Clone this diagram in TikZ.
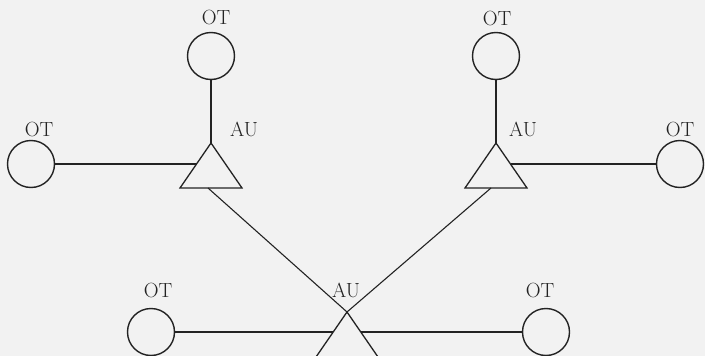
\documentclass[tikz,border=0pt]{standalone}
\usetikzlibrary{calc}
\definecolor{bg}{RGB}{242,242,242}
\definecolor{ink}{RGB}{35,35,35}
\begin{document}
\begin{tikzpicture}[x=1pt,y=-1pt,
  ot/.style={circle,draw=ink,line width=1.4pt,minimum size=47pt,inner sep=0pt},
  lbl/.style={font=\fontsize{20.5}{22}\selectfont,text=ink,inner sep=0pt,anchor=base},
  wire/.style={draw=ink,line width=1.1pt},
  tri/.style={draw=ink,line width=1.3pt,line join=miter}]
\fill[bg] (0,0) rectangle (705,356);
\useasboundingbox (0,0) rectangle (705,356);
\clip (0,0) rectangle (705,356);
% circles (OT)
\node[ot] (c1) at (211,56) {};
\node[ot] (c2) at (31,164) {};
\node[ot] (c3) at (496,56) {};
\node[ot] (c4) at (680,164) {};
\node[ot] (c5) at (151,332) {};
\node[ot] (c6) at (546,332) {};
% labels
\node[lbl] (l1) at (216,24.5) {OT};
\node[lbl] (l2) at (39,136) {OT};
\node[lbl] (l3) at (497,25.5) {OT};
\node[lbl] (l4) at (680,136) {OT};
\node[lbl] (l5) at (158,297) {OT};
\node[lbl] (l6) at (540,297) {OT};
\node[lbl] (a1) at (244,136) {AU};
\node[lbl] (a2) at (523,136) {AU};
\node[lbl] (a3) at (346,297) {AU};
% triangles (AU)
\coordinate (ta) at (211,143);
\coordinate (tb) at (496,143);
\coordinate (tc) at (347,312);
\draw[tri] (ta) -- ++(-31,45) -- ++(62,0) -- cycle;
\draw[tri] (tb) -- ++(-31,45) -- ++(62,0) -- cycle;
\draw[tri] (tc) -- ++(-31,45) -- ++(62,0) -- cycle;
% attachment points
\coordinate (tal) at ($(ta)+(-14.5,21)$);
\coordinate (tbr) at ($(tb)+(14.5,21)$);
\coordinate (tab) at ($(ta)+(-3,45)$);
\coordinate (tbb) at ($(tb)+(-5,45)$);
\coordinate (tcl) at ($(tc)+(-13.8,20)$);
\coordinate (tcr) at ($(tc)+(13.8,20)$);
% connectors
\draw[wire] (c1.south) -- (ta);
\draw[wire] (c3.south) -- (tb);
\draw[wire] (c2.east) -- (tal);
\draw[wire] (tbr) -- (c4.west);
\draw[wire] (tab) -- (tc);
\draw[wire] (tbb) -- (tc);
\draw[wire] (c5.east) -- (tcl);
\draw[wire] (tcr) -- (c6.west);
\end{tikzpicture}
\end{document}
